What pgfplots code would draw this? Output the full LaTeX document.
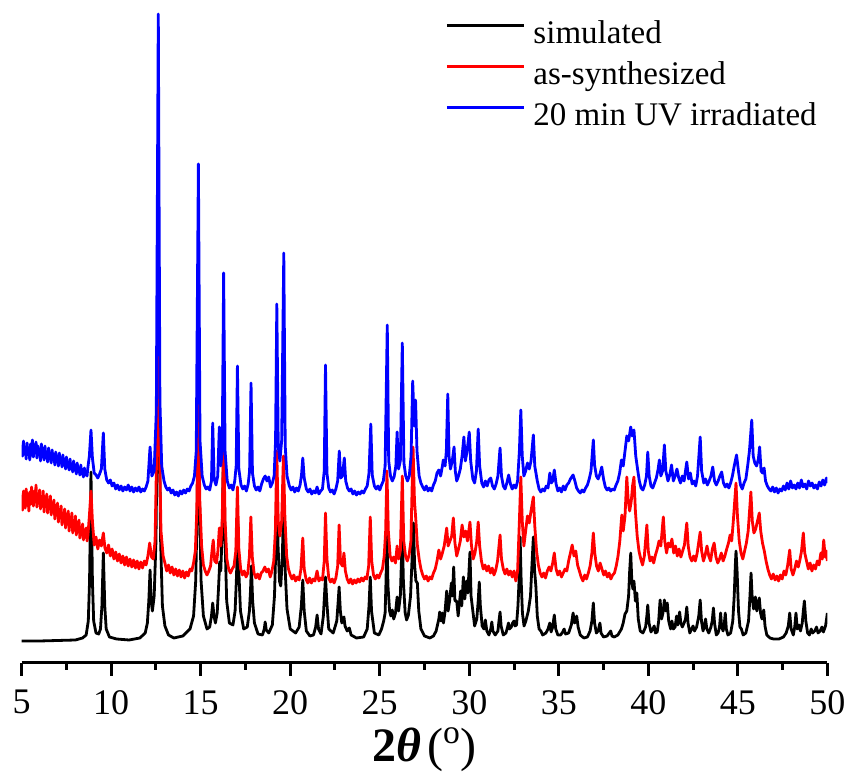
\documentclass[border=0pt]{standalone}
\usepackage{fontspec}
\setmainfont{Liberation Serif}
\usepackage{pgfplots}
\pgfplotsset{compat=1.18}

\begin{document}
\begin{tikzpicture}
\begin{axis}[
    width=402.8pt, height=331.5pt, scale only axis,
    xmin=5, xmax=50, ymin=-22, ymax=641,
    axis x line=bottom, axis y line=none,
    x axis line style={-, line width=1.5pt},
    xtick={5,10,...,50}, minor x tick num=1,
    tick align=outside,
    major tick length=6.5pt, minor tick length=3.5pt,
    every tick/.style={black, line width=1.5pt},
    /pgf/number format/assume math mode=true,
    tick label style={font=\rmfamily\fontsize{18}{18}\selectfont, inner sep=0pt},
    xticklabel style={anchor=north, yshift=-7pt},
    xlabel={\textbf{2\textit{θ}}\hspace{3pt}(\textsuperscript{o})},
    xlabel style={font=\rmfamily\fontsize{24}{24}\selectfont, at={(axis description cs:0.5,0)},
        anchor=north, inner sep=0pt, yshift=-32pt},
    legend style={draw=none, fill=none, at={(axis cs:28.65,620)}, anchor=north west,
        inner sep=0pt, row sep=5.5pt,
        font=\rmfamily\fontsize{16.5}{16.5}\selectfont,
        nodes={inner sep=0pt, text height=11pt, text depth=4pt},
        /tikz/every odd column/.append style={column sep=4pt}},
    legend cell align=left,
    legend image code/.code={\draw[#1, line width=1.5pt] (0pt,5.5pt) -- (38.5pt,5.5pt);},
    every axis plot/.append style={line width=1.4pt, line join=round},
]
% simulated
\addplot[black] coordinates {
(5.0,0) (6.0,0) (7.0,0.5) (8.0,1) (8.4,3) (8.6,6) (8.72,20) (8.79,60) (8.87,169) (8.95,60) (9.02,20) (9.15,8) (9.3,7) (9.4,12) (9.48,35) (9.56,88) (9.64,35) (9.72,12) (9.9,4) (10.3,2) (11.0,1) (11.6,3) (11.9,8) (12.02,18) (12.1,40) (12.17,71) (12.23,40) (12.3,30) (12.4,45) (12.5,100) (12.56,200) (12.63,300) (12.7,200) (12.76,100) (12.86,35) (13.0,15) (13.2,6) (13.5,3) (14.0,5) (14.4,12) (14.6,25) (14.72,60) (14.8,130) (14.87,260) (14.94,130) (15.02,60) (15.15,25) (15.35,12) (15.5,14) (15.6,25) (15.67,38) (15.74,25) (15.82,18) (15.92,28) (16.0,55) (16.06,79) (16.12,70) (16.2,110) (16.28,200) (16.36,100) (16.45,40) (16.6,18) (16.8,16) (16.92,30) (17.0,65) (17.07,120) (17.14,65) (17.22,30) (17.4,12) (17.6,14) (17.72,30) (17.78,50) (17.83,75) (17.9,40) (18.0,18) (18.2,7) (18.45,6) (18.55,12) (18.6,19) (18.66,11) (18.8,8) (19.0,16) (19.12,45) (19.19,90) (19.25,150) (19.32,95) (19.4,60) (19.47,55) (19.55,80) (19.64,140) (19.72,70) (19.82,32) (20.0,12) (20.3,8) (20.5,14) (20.62,35) (20.7,61) (20.78,30) (20.9,10) (21.1,5) (21.3,6) (21.42,14) (21.5,26) (21.58,12) (21.72,7) (21.85,25) (21.92,48) (21.97,64) (22.04,40) (22.15,12) (22.4,8) (22.6,20) (22.68,40) (22.73,54) (22.8,30) (22.88,18) (22.95,22) (23.0,24) (23.06,15) (23.18,10) (23.3,13) (23.4,6) (23.7,3) (24.1,4) (24.3,12) (24.4,35) (24.47,64) (24.54,30) (24.7,8) (24.95,6) (25.1,12) (25.22,20) (25.3,28) (25.35,60) (25.4,110) (25.46,55) (25.55,30) (25.62,25) (25.7,31) (25.78,22) (25.88,28) (25.97,44) (26.05,30) (26.15,45) (26.22,85) (26.26,108) (26.32,60) (26.42,28) (26.5,21) (26.6,26) (26.72,45) (26.8,80) (26.88,118) (26.95,75) (27.02,60) (27.1,58) (27.18,30) (27.3,12) (27.5,5) (27.8,3) (28.0,5) (28.15,10) (28.3,22) (28.35,29) (28.42,20) (28.5,28) (28.56,18) (28.65,30) (28.74,50) (28.82,30) (28.9,40) (29.0,58) (29.06,45) (29.13,74) (29.2,40) (29.3,40) (29.38,25) (29.45,38) (29.52,50) (29.58,35) (29.67,64) (29.75,42) (29.85,60) (29.92,48) (30.04,89) (30.1,45) (30.2,30) (30.3,15) (30.42,22) (30.5,40) (30.56,59) (30.62,35) (30.72,15) (30.82,12) (30.9,21) (30.98,10) (31.1,6) (31.2,12) (31.26,19) (31.32,10) (31.45,6) (31.6,10) (31.66,20) (31.72,29) (31.78,15) (31.9,6) (32.05,8) (32.14,14) (32.19,18) (32.25,12) (32.35,14) (32.42,18) (32.5,20) (32.56,15) (32.64,16) (32.72,35) (32.78,60) (32.84,104) (32.9,60) (32.97,28) (33.06,15) (33.16,20) (33.3,30) (33.42,45) (33.5,75) (33.58,104) (33.65,70) (33.72,55) (33.8,25) (33.9,12) (34.0,10) (34.1,6) (34.28,8) (34.4,12) (34.5,18) (34.57,9) (34.66,14) (34.75,26) (34.83,12) (34.95,6) (35.1,6) (35.22,9) (35.3,12) (35.38,7) (35.55,8) (35.7,16) (35.8,28) (35.88,18) (35.96,20) (36.0,25) (36.08,14) (36.2,6) (36.4,3) (36.6,4) (36.75,10) (36.85,20) (36.93,38) (37.0,18) (37.1,8) (37.2,10) (37.3,18) (37.36,8) (37.5,4) (37.7,5) (37.82,8) (37.9,10) (37.97,5) (38.1,4) (38.3,6) (38.5,12) (38.6,18) (38.7,27) (38.8,30) (38.9,45) (38.96,70) (39.02,88) (39.08,60) (39.14,52) (39.2,60) (39.28,40) (39.36,48) (39.44,22) (39.55,10) (39.7,8) (39.85,14) (39.92,25) (39.97,36) (40.04,18) (40.15,9) (40.25,12) (40.33,15) (40.4,8) (40.5,9) (40.58,20) (40.66,41) (40.74,22) (40.82,28) (40.9,41) (40.98,30) (41.06,38) (41.14,20) (41.25,12) (41.32,20) (41.4,12) (41.5,14) (41.58,25) (41.65,16) (41.75,29) (41.82,18) (41.9,14) (42.0,18) (42.08,22) (42.15,34) (42.22,18) (42.32,8) (42.42,12) (42.5,15) (42.58,10) (42.7,14) (42.82,25) (42.9,41) (42.97,20) (43.06,10) (43.14,16) (43.2,22) (43.27,12) (43.38,8) (43.5,14) (43.57,20) (43.64,33) (43.7,18) (43.8,6) (43.9,8) (43.98,14) (44.04,28) (44.1,14) (44.18,10) (44.25,18) (44.3,28) (44.36,12) (44.45,6) (44.6,8) (44.72,20) (44.8,45) (44.86,75) (44.9,90) (44.96,70) (45.04,30) (45.12,14) (45.2,12) (45.3,6) (45.45,8) (45.6,20) (45.68,45) (45.74,68) (45.8,45) (45.88,32) (45.98,44) (46.06,30) (46.14,38) (46.2,43) (46.27,28) (46.35,22) (46.45,31) (46.52,15) (46.62,6) (46.8,3) (47.0,2) (47.3,2) (47.55,4) (47.7,8) (47.82,15) (47.9,28) (47.98,12) (48.1,6) (48.18,14) (48.25,28) (48.32,12) (48.42,16) (48.5,10) (48.6,18) (48.66,30) (48.72,40) (48.8,20) (48.9,8) (49.0,6) (49.1,12) (49.18,8) (49.3,10) (49.4,14) (49.48,8) (49.6,10) (49.7,14) (49.78,9) (49.9,15) (49.96,22) (50.0,28)
};
\addlegendentry{simulated}
% as-synthesized
\addplot[red] coordinates {
(5.0,146) (5.05,131) (5.1,150) (5.15,138) (5.2,133) (5.25,152) (5.3,140) (5.35,147) (5.4,130) (5.45,149) (5.5,137) (5.55,154) (5.6,141) (5.65,135) (5.7,150) (5.75,139) (5.8,156) (5.85,134) (5.9,146) (5.95,140)
(6.0,151) (6.05,132) (6.1,144) (6.15,137) (6.2,150) (6.25,129) (6.3,142) (6.35,136) (6.4,147) (6.45,128) (6.5,140) (6.55,133) (6.6,145) (6.65,126) (6.7,137) (6.75,130) (6.8,141) (6.85,122) (6.9,134) (6.95,127)
(7.0,138) (7.05,119) (7.1,131) (7.15,124) (7.2,135) (7.25,116) (7.3,128) (7.35,121) (7.4,132) (7.45,113) (7.5,126) (7.55,118) (7.6,130) (7.65,110) (7.7,123) (7.75,115) (7.8,128) (7.85,108) (7.9,120) (7.95,112)
(8.0,125) (8.05,106) (8.1,117) (8.15,109) (8.2,121) (8.25,103) (8.3,114) (8.35,106) (8.4,117) (8.45,101) (8.5,111) (8.55,104) (8.6,113) (8.65,100) (8.7,106)
(8.78,125) (8.87,150) (8.95,120) (9.05,96) (9.15,104) (9.25,92) (9.35,101) (9.45,95) (9.56,108) (9.65,93) (9.75,88) (9.85,96) (9.95,85)
(10.05,92) (10.15,82) (10.25,89) (10.35,80) (10.45,87) (10.55,78) (10.65,85) (10.75,76) (10.85,84) (10.95,75) (11.05,82) (11.15,74) (11.25,81) (11.35,73) (11.45,80) (11.55,72) (11.65,79) (11.75,73) (11.85,80) (11.95,76)
(12.05,85) (12.15,98) (12.25,84) (12.35,82) (12.45,100) (12.55,200) (12.6,329) (12.68,210) (12.78,110) (12.9,85) (13.0,78) (13.1,70) (13.2,76) (13.3,68) (13.4,74) (13.5,66) (13.6,72) (13.7,65) (13.8,71) (13.9,64)
(14.0,70) (14.1,63) (14.2,69) (14.3,65) (14.4,72) (14.5,70) (14.6,78) (14.7,90) (14.78,130) (14.87,250) (14.95,140) (15.05,95) (15.15,76) (15.25,70) (15.35,66) (15.45,70) (15.55,75) (15.63,90) (15.7,101) (15.78,80) (15.88,78) (15.96,90)
(16.04,113) (16.12,95) (16.2,120) (16.28,210) (16.36,120) (16.46,82) (16.56,72) (16.66,68) (16.76,72) (16.86,75) (16.96,90) (17.05,154) (17.13,92) (17.23,72) (17.33,66) (17.43,70) (17.53,64) (17.63,68) (17.72,85) (17.8,124) (17.88,84) (17.98,68)
(18.08,63) (18.18,67) (18.28,62) (18.38,68) (18.48,70) (18.58,74) (18.68,69) (18.78,72) (18.88,64) (18.98,70) (19.08,80) (19.17,110) (19.25,190) (19.33,120) (19.42,105) (19.52,120) (19.62,185) (19.7,125) (19.8,85) (19.9,72)
(20.0,66) (20.1,62) (20.2,66) (20.3,60) (20.4,64) (20.5,61) (20.6,72) (20.7,103) (20.78,72) (20.88,62) (20.98,58) (21.08,63) (21.18,58) (21.28,62) (21.38,60) (21.5,70) (21.6,60) (21.7,63) (21.8,61) (21.9,80) (21.97,128)
(22.05,82) (22.15,63) (22.25,59) (22.35,62) (22.45,58) (22.55,63) (22.65,75) (22.73,116) (22.81,78) (22.92,75) (23.0,88) (23.08,70) (23.18,62) (23.28,58) (23.38,62) (23.48,57) (23.58,61) (23.68,58) (23.78,62) (23.88,59) (23.98,63)
(24.08,60) (24.18,64) (24.28,62) (24.38,75) (24.47,124) (24.55,80) (24.65,66) (24.75,62) (24.85,66) (24.95,63) (25.05,68) (25.15,72) (25.25,85) (25.33,110) (25.4,170) (25.48,110) (25.58,85) (25.68,80) (25.78,84) (25.88,78) (25.97,95)
(26.05,82) (26.15,90) (26.26,165) (26.34,100) (26.44,85) (26.54,80) (26.64,86) (26.74,100) (26.86,194) (26.94,140) (27.02,120) (27.1,96) (27.2,82) (27.3,72) (27.4,66) (27.5,62) (27.6,65) (27.7,60) (27.8,64) (27.9,62)
(28.0,68) (28.1,72) (28.2,80) (28.3,91) (28.4,82) (28.5,88) (28.6,95) (28.74,113) (28.82,95) (28.92,100) (29.02,105) (29.11,123) (29.2,98) (29.3,85) (29.4,92) (29.5,100) (29.6,116) (29.7,104) (29.8,110) (29.9,100)
(30.04,119) (30.12,96) (30.22,82) (30.32,88) (30.42,100) (30.5,119) (30.58,95) (30.68,80) (30.78,72) (30.88,76) (30.98,70) (31.08,75) (31.18,68) (31.28,73) (31.38,66) (31.48,71) (31.58,80) (31.72,106) (31.8,82) (31.9,72)
(32.0,67) (32.1,72) (32.2,66) (32.3,70) (32.4,64) (32.5,70) (32.6,60) (32.7,70) (32.8,120) (32.88,164) (32.96,120) (33.05,95) (33.15,110) (33.25,125) (33.35,118) (33.45,130) (33.58,144) (33.66,115) (33.76,90) (33.86,76) (33.96,68)
(34.06,64) (34.16,68) (34.26,63) (34.36,70) (34.46,74) (34.56,70) (34.66,78) (34.75,88) (34.85,72) (34.95,66) (35.05,70) (35.15,64) (35.25,68) (35.35,72) (35.45,70) (35.55,80) (35.65,88) (35.75,96) (35.85,85) (35.95,90)
(36.05,76) (36.15,70) (36.25,64) (36.35,60) (36.45,66) (36.55,62) (36.65,68) (36.75,75) (36.85,88) (36.93,108) (37.01,88) (37.11,75) (37.21,70) (37.31,78) (37.41,72) (37.51,66) (37.61,70) (37.71,64) (37.81,68) (37.91,62)
(38.01,66) (38.11,68) (38.21,75) (38.31,85) (38.41,100) (38.52,126) (38.6,110) (38.7,125) (38.8,164) (38.88,140) (38.96,130) (39.05,140) (39.12,155) (39.2,164) (39.28,130) (39.38,105) (39.48,90) (39.58,82) (39.68,76) (39.78,85) (39.92,116)
(40.0,90) (40.1,80) (40.2,84) (40.3,78) (40.4,86) (40.5,92) (40.6,100) (40.7,95) (40.84,124) (40.92,100) (41.02,88) (41.12,98) (41.22,94) (41.32,102) (41.42,88) (41.52,95) (41.62,85) (41.72,92) (41.82,84) (41.92,90)
(42.02,96) (42.15,118) (42.23,95) (42.33,84) (42.43,80) (42.53,85) (42.63,80) (42.73,88) (42.9,109) (42.98,90) (43.08,80) (43.18,86) (43.28,95) (43.38,85) (43.48,80) (43.58,92) (43.68,98) (43.78,84) (43.88,78) (43.98,82)
(44.08,88) (44.18,80) (44.28,85) (44.38,92) (44.48,98) (44.57,106) (44.66,100) (44.75,120) (44.9,158) (44.98,125) (45.08,100) (45.18,88) (45.28,82) (45.38,90) (45.48,98) (45.58,110) (45.73,149) (45.81,120) (45.9,108)
(46.0,112) (46.1,120) (46.2,128) (46.28,110) (46.38,98) (46.48,90) (46.58,80) (46.68,72) (46.78,66) (46.88,62) (46.98,67) (47.08,61) (47.18,65) (47.28,60) (47.38,66) (47.48,62) (47.58,70) (47.68,66) (47.78,75) (47.9,91) (47.98,72)
(48.08,66) (48.18,72) (48.28,80) (48.38,74) (48.48,82) (48.56,90) (48.66,108) (48.74,88) (48.84,80) (48.94,72) (49.04,78) (49.14,70) (49.24,76) (49.34,72) (49.44,80) (49.54,76) (49.64,88) (49.72,82) (49.8,101) (49.88,84) (49.95,90) (50.0,80)
};
\addlegendentry{as-synthesized}
% 20 min UV irradiated
\addplot[blue] coordinates {
(5.0,196) (5.05,185) (5.1,200) (5.15,188) (5.2,194) (5.25,182) (5.3,198) (5.35,187) (5.4,192) (5.45,181) (5.5,197) (5.55,186) (5.6,201) (5.65,184) (5.7,193) (5.75,188) (5.8,199) (5.85,183) (5.9,195) (5.95,186)
(6.0,192) (6.05,180) (6.1,197) (6.15,185) (6.2,191) (6.25,181) (6.3,195) (6.35,184) (6.4,189) (6.45,179) (6.5,193) (6.55,182) (6.6,188) (6.65,178) (6.7,191) (6.75,181) (6.8,186) (6.85,176) (6.9,189) (6.95,179)
(7.0,185) (7.05,175) (7.1,188) (7.15,178) (7.2,183) (7.25,174) (7.3,186) (7.35,176) (7.4,181) (7.45,172) (7.5,184) (7.55,174) (7.6,179) (7.65,171) (7.7,182) (7.75,172) (7.8,177) (7.85,169) (7.9,180) (7.95,171)
(8.0,175) (8.05,167) (8.1,178) (8.15,169) (8.2,173) (8.25,166) (8.3,176) (8.35,167) (8.4,171) (8.45,164) (8.5,173) (8.55,166) (8.6,170) (8.65,165) (8.7,174)
(8.78,185) (8.87,211) (8.95,183) (9.05,168) (9.15,166) (9.25,163) (9.35,167) (9.45,172) (9.56,208) (9.64,172) (9.75,161) (9.85,158) (9.95,161)
(10.05,155) (10.15,158) (10.25,152) (10.35,156) (10.45,151) (10.55,155) (10.65,150) (10.75,154) (10.85,151) (10.95,156) (11.05,150) (11.15,154) (11.25,149) (11.35,153) (11.45,150) (11.55,154) (11.65,149) (11.75,152) (11.85,150) (11.95,154)
(12.05,160) (12.17,194) (12.27,165) (12.4,170) (12.52,230) (12.63,627) (12.72,240) (12.82,175) (12.95,160) (13.05,154) (13.15,151) (13.25,153) (13.35,148) (13.45,151) (13.55,146) (13.65,149) (13.75,145) (13.85,150) (13.95,147)
(14.05,151) (14.15,148) (14.25,152) (14.35,150) (14.45,155) (14.55,158) (14.65,165) (14.75,190) (14.87,477) (14.96,200) (15.08,165) (15.2,156) (15.3,152) (15.4,154) (15.5,151) (15.6,160) (15.67,218) (15.75,162) (15.85,156) (15.95,165)
(16.04,214) (16.12,175) (16.2,190) (16.28,368) (16.36,190) (16.48,160) (16.6,153) (16.7,156) (16.8,151) (16.9,160) (16.98,175) (17.05,275) (17.13,172) (17.25,156) (17.35,152) (17.45,155) (17.55,150) (17.65,157) (17.73,170) (17.81,258) (17.89,168)
(18.0,155) (18.1,151) (18.2,154) (18.3,150) (18.4,157) (18.5,162) (18.6,165) (18.7,160) (18.8,164) (18.9,154) (19.0,158) (19.1,165) (19.18,200) (19.25,337) (19.33,195) (19.42,180) (19.52,200) (19.64,388) (19.72,195) (19.82,165) (19.95,155)
(20.05,151) (20.15,154) (20.25,149) (20.35,153) (20.45,150) (20.55,156) (20.63,166) (20.7,183) (20.78,163) (20.9,152) (21.0,149) (21.1,152) (21.2,147) (21.3,150) (21.4,148) (21.5,154) (21.6,147) (21.7,150) (21.8,152) (21.9,170) (21.97,276)
(22.05,168) (22.15,153) (22.25,149) (22.35,151) (22.45,147) (22.55,152) (22.65,160) (22.74,190) (22.82,163) (22.92,165) (23.02,183) (23.1,160) (23.2,153) (23.3,150) (23.4,152) (23.5,147) (23.6,150) (23.7,146) (23.8,149) (23.9,147)
(24.0,150) (24.1,148) (24.2,152) (24.3,155) (24.4,168) (24.5,217) (24.58,166) (24.7,155) (24.8,152) (24.9,155) (25.0,151) (25.1,156) (25.2,160) (25.3,175) (25.42,316) (25.5,180) (25.6,165) (25.7,160) (25.8,164) (25.9,175) (25.97,209)
(26.05,172) (26.15,180) (26.26,298) (26.35,178) (26.45,165) (26.55,160) (26.65,165) (26.75,185) (26.84,260) (26.93,215) (27.0,241) (27.08,190) (27.2,165) (27.3,158) (27.4,154) (27.5,151) (27.6,155) (27.7,150) (27.8,153) (27.9,150)
(28.0,156) (28.1,160) (28.2,168) (28.3,171) (28.4,165) (28.5,175) (28.55,181) (28.65,175) (28.72,190) (28.8,247) (28.87,185) (28.95,172) (29.05,180) (29.15,194) (29.22,170) (29.3,160) (29.4,165) (29.5,172) (29.6,185) (29.7,204) (29.78,180) (29.88,190)
(30.0,209) (30.08,180) (30.2,162) (30.3,158) (30.4,170) (30.5,212) (30.58,175) (30.7,158) (30.8,154) (30.9,160) (31.0,155) (31.1,161) (31.2,163) (31.3,155) (31.4,152) (31.5,157) (31.6,165) (31.72,193) (31.8,165) (31.9,155)
(32.0,152) (32.1,158) (32.2,166) (32.3,157) (32.4,152) (32.5,156) (32.6,153) (32.7,160) (32.8,190) (32.88,231) (32.96,185) (33.05,165) (33.15,170) (33.25,178) (33.35,172) (33.45,180) (33.58,206) (33.66,175) (33.8,160) (33.9,152)
(34.0,149) (34.1,152) (34.2,150) (34.3,155) (34.4,153) (34.5,168) (34.58,158) (34.66,160) (34.75,171) (34.85,157) (34.95,150) (35.05,153) (35.15,149) (35.25,155) (35.35,151) (35.45,156) (35.55,158) (35.65,162) (35.8,166) (35.9,160)
(36.0,153) (36.1,150) (36.2,148) (36.3,151) (36.4,149) (36.5,153) (36.6,156) (36.7,162) (36.8,170) (36.93,201) (37.0,176) (37.1,165) (37.2,162) (37.3,167) (37.4,174) (37.5,162) (37.6,154) (37.7,151) (37.8,153) (37.9,150)
(38.0,152) (38.1,151) (38.2,156) (38.3,160) (38.4,168) (38.5,181) (38.6,175) (38.7,190) (38.8,205) (38.9,200) (39.02,214) (39.1,205) (39.2,211) (39.3,185) (39.4,172) (39.5,160) (39.6,153) (39.7,151) (39.8,156) (39.9,165) (39.97,189)
(40.05,165) (40.15,155) (40.25,153) (40.35,158) (40.45,163) (40.55,172) (40.62,181) (40.7,165) (40.8,170) (40.9,196) (40.98,170) (41.1,160) (41.2,166) (41.3,176) (41.4,160) (41.5,165) (41.6,172) (41.7,163) (41.8,158) (41.9,165)
(42.0,160) (42.15,179) (42.25,162) (42.35,168) (42.45,157) (42.55,160) (42.65,155) (42.75,165) (42.9,204) (42.98,170) (43.1,158) (43.2,162) (43.3,156) (43.4,160) (43.5,165) (43.6,174) (43.7,160) (43.8,156) (43.9,160)
(44.0,165) (44.1,169) (44.2,158) (44.3,154) (44.4,157) (44.5,153) (44.6,158) (44.7,165) (44.8,175) (44.93,186) (45.05,168) (45.15,156) (45.25,152) (45.35,158) (45.45,162) (45.55,175) (45.65,190) (45.78,221) (45.86,185) (45.95,178)
(46.05,175) (46.15,182) (46.22,194) (46.3,170) (46.38,168) (46.47,173) (46.55,160) (46.65,155) (46.75,152) (46.85,150) (46.95,154) (47.05,149) (47.15,153) (47.25,148) (47.35,152) (47.45,150) (47.55,155) (47.65,151) (47.75,158) (47.85,152) (47.95,160)
(48.05,153) (48.15,156) (48.25,152) (48.35,158) (48.45,153) (48.55,161) (48.65,154) (48.75,157) (48.85,152) (48.95,160) (49.05,155) (49.15,158) (49.25,153) (49.35,156) (49.45,152) (49.55,159) (49.65,155) (49.75,161) (49.85,156) (49.95,163) (50.0,158)
};
\addlegendentry{20 min UV irradiated}
\end{axis}
% white margins round the axis, as in the reference
\path ([xshift=-10.85pt]current axis.north west) -- ([xshift=11.85pt]current axis.north east);
\end{tikzpicture}
\end{document}
